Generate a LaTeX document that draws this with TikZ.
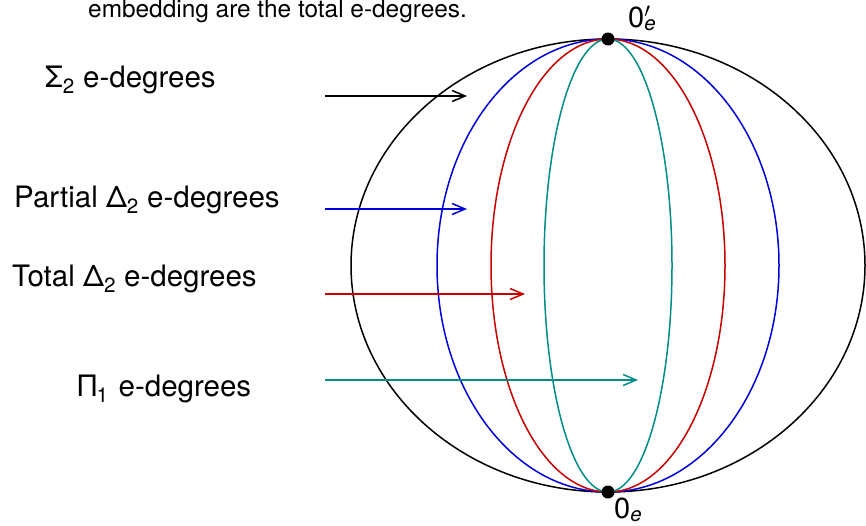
\documentclass[tikz,border=0pt]{standalone}
\usepackage{fontspec}
\setmainfont{TeX Gyre Heros}
\usetikzlibrary{arrows.meta}
\definecolor{cblue}{RGB}{0,0,220}
\definecolor{cred}{RGB}{200,0,0}
\definecolor{cteal}{RGB}{0,140,135}
\begin{document}
\begin{tikzpicture}[x=1pt,y=-1pt,
  curve/.style={line width=1.5pt},
  pointer/.style={line width=1.5pt,-{Straight Barb[length=13pt,width=11pt,line width=1.5pt]}},
  lab/.style={anchor=base west,inner sep=0pt,font=\fontsize{29.5}{34}\selectfont},
  zlab/.style={anchor=base west,inner sep=0pt,font=\fontsize{29}{34}\selectfont},
  dot/.style={circle,fill=black,minimum size=13pt,inner sep=0pt}]
\useasboundingbox (0,0) rectangle (866,525);
\node[anchor=base west,inner sep=0pt,font=\fontsize{24.4}{29}\selectfont] (cap) at (88,17) {embedding are the total e-degrees.};
\coordinate (c) at (608,265.5);
\draw[curve,black] (c) ellipse [x radius=257pt, y radius=226.5pt];
\draw[curve,cblue] (c) ellipse [x radius=171pt, y radius=226.5pt];
\draw[curve,cred] (c) ellipse [x radius=117pt, y radius=226.5pt];
\draw[curve,cteal] (c) ellipse [x radius=64pt, y radius=226.5pt];
\node[dot] (top) at (608,39) {};
\node[dot] (bot) at (608,492) {};
\node[zlab] (ztop) at (628,27) {0\rlap{\textsuperscript{$\prime$}}\textsubscript{\itshape e}};
\node[zlab] (zbot) at (614,518) {0\textsubscript{\itshape e}};
\node[lab] (l1) at (45,87) {Σ\textsubscript{2} e-degrees};
\node[lab] (l2) at (14,207) {Partial Δ\textsubscript{2} e-degrees};
\node[lab] (l3) at (12,286) {Total Δ\textsubscript{2} e-degrees};
\node[lab] (l4) at (78,396) {Π\textsubscript{1}\hspace{2pt} e-degrees};
\coordinate (s1) at (325,96);  \coordinate (e1) at (467,96);
\coordinate (s2) at (325,209); \coordinate (e2) at (467,209);
\coordinate (s3) at (325,294); \coordinate (e3) at (525,294);
\coordinate (s4) at (325,380); \coordinate (e4) at (638,380);
\draw[pointer,black] (s1) -- (e1);
\draw[pointer,cblue] (s2) -- (e2);
\draw[pointer,cred] (s3) -- (e3);
\draw[pointer,cteal] (s4) -- (e4);
\end{tikzpicture}
\end{document}
